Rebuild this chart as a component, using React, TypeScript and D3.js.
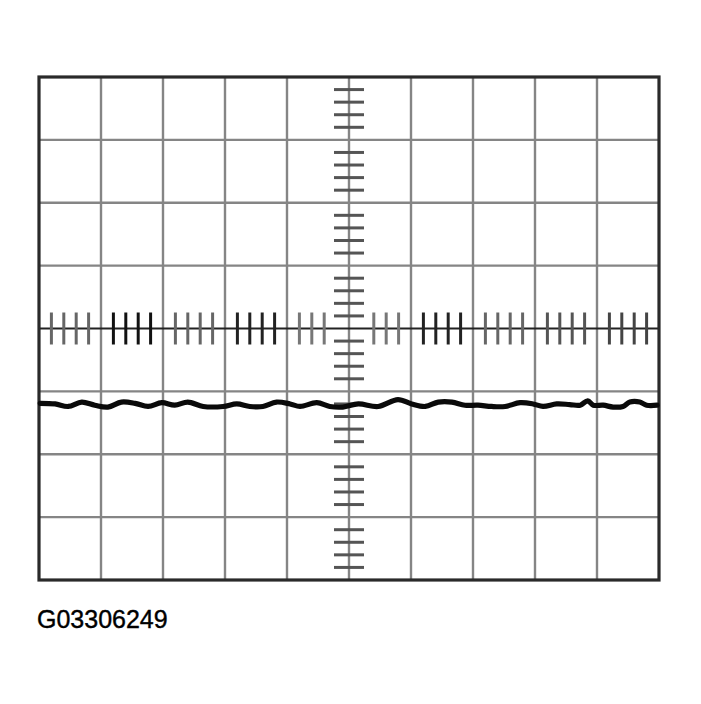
import * as d3 from 'd3';

// screen: 10 horizontal divisions x 8 vertical divisions, centre at (5, 0)
const xDivisions = [0, 1, 2, 3, 4, 5, 6, 7, 8, 9, 10];
const yDivisions = [-4, -3, -2, -1, 0, 1, 2, 3, 4];
const minorSteps = [0.2, 0.4, 0.6, 0.8];
const figureLabel = 'G03306249';

// trace: time (div) / voltage (div)
const traceTime = [
  0.02, 0.26, 0.47, 0.69, 0.9, 1.11, 1.33, 1.55, 1.76, 1.98, 2.19, 2.4, 2.65, 2.97, 3.19,
  3.4, 3.61, 3.83, 4.05, 4.21, 4.48, 4.69, 4.9, 5.15, 5.47, 5.79, 6.01, 6.23, 6.44, 6.66,
  6.87, 7.08, 7.3, 7.52, 7.76, 7.97, 8.13, 8.35, 8.56, 8.73, 8.85, 8.94, 9.1, 9.26, 9.42,
  9.53, 9.69, 9.8, 9.97,
];
const traceVolts = [
  -1.19, -1.2, -1.24, -1.17, -1.22, -1.25, -1.17, -1.19, -1.24, -1.18, -1.22, -1.17, -1.24, -1.24, -1.2,
  -1.24, -1.24, -1.17, -1.2, -1.24, -1.18, -1.24, -1.25, -1.2, -1.24, -1.13, -1.2, -1.24, -1.17, -1.17,
  -1.22, -1.22, -1.24, -1.24, -1.18, -1.2, -1.24, -1.2, -1.21, -1.22, -1.15, -1.22, -1.22, -1.25, -1.24,
  -1.17, -1.17, -1.22, -1.22,
];

// darkness of the tick groups along the horizontal axis (as scanned)
const groupShade = ['#666', '#111', '#666', '#222', '#777', '#777', '#222', '#666', '#555', '#444'];

export default function App() {
  const W = 701;
  const H = 704;
  const left = 39;
  const right = 659;
  const top = 77;
  const bottom = 580;

  const x = d3.scaleLinear().domain([0, 10]).range([left, right]);
  const y = d3.scaleLinear().domain([-4, 4]).range([bottom, top]);

  const hTicks: number[] = [];
  xDivisions.slice(0, -1).forEach(d => {
    minorSteps.forEach(s => {
      const v = d + s;
      if (Math.abs(v - 5) > 0.25) hTicks.push(v);
    });
  });
  const vTicks: number[] = [];
  yDivisions.slice(0, -1).forEach(d => {
    minorSteps.forEach(s => vTicks.push(d + s));
  });

  const points: [number, number][] = traceTime.map((t, i) => [t, traceVolts[i]]);
  const line = d3
    .line<[number, number]>()
    .x(d => x(d[0]))
    .y(d => y(d[1]))
    .curve(d3.curveCatmullRom.alpha(0.5));

  return (
    <svg
      width={W}
      height={H}
      style={{ position: 'absolute', left: 0, top: 0, background: '#fff' }}
    >
      <rect width={W} height={H} fill="#fff" />

      {/* grid */}
      {xDivisions.slice(1, -1).map(d => (
        <line
          key={'gx' + d}
          x1={x(d)}
          x2={x(d)}
          y1={top}
          y2={bottom}
          stroke="#858585"
          strokeWidth={2.4}
        />
      ))}
      {yDivisions.slice(1, -1).map(d => (
        <line
          key={'gy' + d}
          x1={left}
          x2={right}
          y1={y(d)}
          y2={y(d)}
          stroke={d === 0 ? '#222' : '#858585'}
          strokeWidth={d === 0 ? 2 : 2.4}
        />
      ))}

      {/* minor ticks on the centre axes */}
      {hTicks.map(v => (
        <line
          key={'ht' + v.toFixed(1)}
          x1={x(v)}
          x2={x(v)}
          y1={y(0) - 16}
          y2={y(0) + 16}
          stroke={groupShade[Math.floor(v)]}
          strokeWidth={3}
        />
      ))}
      {vTicks.map(v => (
        <line
          key={'vt' + v.toFixed(1)}
          x1={x(5) - 15}
          x2={x(5) + 15}
          y1={y(v)}
          y2={y(v)}
          stroke="#555"
          strokeWidth={3}
        />
      ))}

      {/* frame */}
      <rect
        x={left}
        y={top}
        width={right - left}
        height={bottom - top}
        fill="none"
        stroke="#2a2a2a"
        strokeWidth={3.2}
      />

      {/* trace */}
      <path
        d={line(points) || ''}
        fill="none"
        stroke="#0a0a0a"
        strokeWidth={5.2}
        strokeLinejoin="round"
        strokeLinecap="round"
      />

      <text
        x={37}
        y={628}
        fontFamily="'Liberation Sans', Arial, sans-serif"
        fontSize={25}
        fill="#000"
        stroke="#000"
        strokeWidth={0.4}
      >
        {figureLabel}
      </text>
    </svg>
  );
}
